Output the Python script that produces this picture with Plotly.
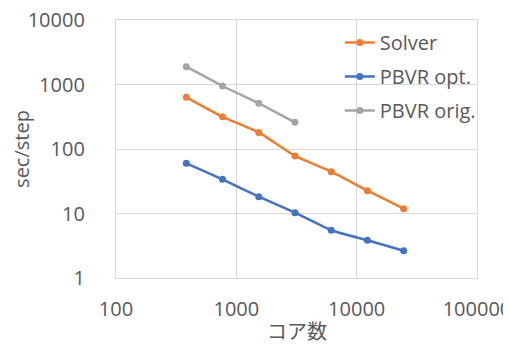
import plotly.graph_objects as go

cores = [384, 768, 1536, 3072, 6144, 12288, 24576]
solver = [633, 316, 181, 78, 44.5, 22.6, 11.9]
pbvr_opt = [60, 33.9, 18.2, 10.3, 5.5, 3.84, 2.65]
pbvr_orig = [1888, 948, 511, 259]

x_ticks = [100, 1000, 10000, 100000]
x_labels = ["100", "1000", "10000", "100000"]
y_ticks = [1, 10, 100, 1000, 10000]
y_labels = ["1", "10", "100", "1000", "10000"]
x_title = "コア数"
y_title = "sec/step"

FONT = "Open Sans, Noto Sans CJK JP, sans-serif"
TXT = "#595959"
GRID = "#d9d9d9"

fig = go.Figure()
series = [
    ("Solver", cores, solver, "#ED7D31"),
    ("PBVR opt.", cores, pbvr_opt, "#4472C4"),
    ("PBVR orig.", cores[:len(pbvr_orig)], pbvr_orig, "#A5A5A5"),
]
for name, xs, ys, col in series:
    fig.add_trace(go.Scatter(
        x=xs, y=ys, name=name, mode="lines+markers",
        line=dict(color=col, width=2.5, shape="spline", smoothing=0.4),
        marker=dict(color=col, size=7),
        legendgroup=name,
    ))

# page body has an 8px margin, so the figure is sized/offset to compensate
fig.update_layout(
    width=503, height=339,
    margin=dict(l=108, r=34, t=12, b=69),
    paper_bgcolor="white", plot_bgcolor="white",
    font=dict(family=FONT, color=TXT, size=20),
    legend=dict(x=0.62, y=0.988, xanchor="left", yanchor="top",
                bgcolor="rgba(0,0,0,0)", font=dict(size=20, color=TXT),
                tracegroupgap=5, traceorder="grouped", itemwidth=30),
    xaxis=dict(type="log", range=[2, 5], tickvals=x_ticks, ticktext=x_labels,
               showgrid=True, gridcolor=GRID, gridwidth=1.3,
               showline=True, linecolor=GRID, linewidth=1.3, mirror=True,
               ticks="outside", ticklen=13, tickcolor="rgba(0,0,0,0)",
               ticklabeloverflow="allow",
               zeroline=False, automargin=False),
    yaxis=dict(type="log", range=[0, 4], tickvals=y_ticks, ticktext=y_labels,
               showgrid=True, gridcolor=GRID, gridwidth=1.3,
               showline=True, linecolor=GRID, linewidth=1.3, mirror=True,
               ticks="outside", ticklen=26, tickcolor="rgba(0,0,0,0)",
               ticklabeloverflow="allow",
               zeroline=False, automargin=False,
               title=dict(text=y_title, font=dict(size=20, color=TXT))),
    annotations=[
        dict(text=x_title, xref="paper", yref="paper", x=0.5, y=-0.209,
             xanchor="center", yanchor="middle", showarrow=False,
             font=dict(size=20, color=TXT)),
    ],
)

fig.write_html("out.html")
